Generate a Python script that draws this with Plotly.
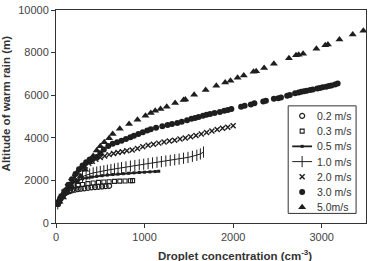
import plotly.graph_objects as go

# ---------------- data ----------------
labels = ["0.2 m/s", "0.3 m/s", "0.5 m/s", "1.0 m/s", "2.0 m/s", "3.0 m/s", "5.0m/s"]

x02 = [20, 30, 45, 60, 80, 100, 125, 150, 180, 210, 245, 280, 320, 360, 400, 440, 480, 520, 560, 600]
y02 = [900, 1000, 1120, 1220, 1320, 1390, 1450, 1490, 1530, 1560, 1590, 1610, 1630, 1650, 1670, 1685, 1700, 1715, 1730, 1745]

x03 = [20, 40, 60, 90, 120, 160, 200, 250, 300, 360, 420, 480, 540, 600, 660, 720, 780, 840, 865]
y03 = [900, 1080, 1250, 1420, 1530, 1620, 1690, 1760, 1810, 1850, 1880, 1905, 1925, 1940, 1955, 1965, 1975, 1985, 1990]

x05 = [20, 50, 80, 120, 160, 200, 250, 300, 350, 400, 460, 520, 580, 640, 700, 760, 820, 880, 940, 1000, 1060, 1120, 1160]
y05 = [900, 1150, 1400, 1650, 1820, 1930, 2020, 2080, 2120, 2160, 2190, 2220, 2250, 2275, 2295, 2315, 2335, 2355, 2370, 2385, 2400, 2415, 2430]

x10 = [20, 60, 100, 140, 180, 220, 260, 300, 340, 380, 420, 460, 500, 540, 580, 620, 660, 700, 740, 790, 840, 890,
       940, 990, 1040, 1090, 1140, 1190, 1240, 1290, 1340, 1390, 1440, 1490, 1540, 1590, 1630, 1665]
y10 = [900, 1150, 1400, 1620, 1820, 1980, 2100, 2180, 2250, 2300, 2350, 2390, 2420, 2450, 2480, 2510, 2540, 2570,
       2600, 2630, 2670, 2700, 2730, 2760, 2790, 2820, 2850, 2880, 2910, 2940, 2970, 3000, 3040, 3080, 3130, 3180, 3240, 3330]

x20 = [20, 50, 90, 130, 170, 210, 250, 290, 330, 370, 410, 450, 500, 550, 600, 650, 700, 750, 800, 860, 920, 980,
       1040, 1100, 1160, 1220, 1280, 1340, 1400, 1460, 1520, 1580, 1640, 1700, 1760, 1820, 1880, 1940, 2000]
y20 = [900, 1150, 1450, 1700, 1950, 2150, 2350, 2530, 2680, 2800, 2900, 2990, 3080, 3150, 3210, 3260, 3310, 3350,
       3390, 3430, 3500, 3580, 3650, 3700, 3750, 3800, 3850, 3890, 3940, 3990, 4050, 4110, 4180, 4250, 4320, 4390,
       4450, 4500, 4570]

x30 = [20, 60, 100, 140, 180, 220, 260, 300, 340, 380, 420, 460, 500, 540, 590, 640, 690, 740, 790, 840, 880, 930,
       980, 1030, 1070, 1130, 1200, 1260, 1310, 1370, 1420, 1480, 1530, 1570, 1610, 1660, 1700, 1740, 1790, 1850,
       1900, 1940, 1980, 2090, 2130, 2200, 2240, 2340, 2370, 2460, 2510, 2540, 2610, 2640, 2700, 2740, 2770, 2800,
       2830, 2870, 2900, 2950, 2980, 3010, 3050, 3080, 3110, 3150, 3180]
y30 = [900, 1200, 1500, 1800, 2050, 2300, 2520, 2700, 2850, 2980, 3050, 3100, 3280, 3450, 3620, 3720, 3790, 3860,
       3940, 4030, 4100, 4180, 4260, 4340, 4400, 4470, 4540, 4600, 4650, 4700, 4750, 4820, 4890, 4930, 4980, 5030,
       5080, 5120, 5170, 5210, 5270, 5310, 5350, 5460, 5500, 5560, 5620, 5700, 5740, 5830, 5860, 5890, 5970, 6010,
       6090, 6130, 6160, 6190, 6210, 6240, 6270, 6310, 6340, 6370, 6400, 6430, 6460, 6500, 6550]

x50 = [40, 80, 130, 180, 230, 280, 330, 380, 420, 460, 500, 545, 600, 640, 720, 825, 920, 1010, 1070, 1120, 1180,
       1250, 1345, 1440, 1460, 1560, 1690, 1810, 1910, 1970, 2050, 2120, 2230, 2260, 2350, 2460, 2630, 2710, 2740,
       2790, 2940, 3040, 3070, 3200, 3350, 3470]
y50 = [1000, 1200, 1450, 1700, 1950, 2200, 2500, 2850, 3150, 3400, 3600, 3790, 3980, 4180, 4420, 4650, 4850, 5040,
       5160, 5270, 5350, 5460, 5630, 5780, 5800, 6020, 6240, 6440, 6600, 6680, 6820, 6920, 7100, 7130, 7280, 7480,
       7730, 7870, 7900, 7950, 8180, 8340, 8380, 8620, 8850, 9030]

x_ticks = [0, 1000, 2000, 3000]
y_ticks = [0, 2000, 4000, 6000, 8000, 10000]
x_tick_text = ["0", "1000", "2000", "3000"]
y_tick_text = ["0", "2000", "4000", "6000", "8000", "10000"]

# ---------------- styling ----------------
INK = "#1e1e1e"
FONT = "Arial, Liberation Sans, sans-serif"

styles = [
    dict(mode="markers", marker=dict(symbol="circle-open", size=5, color=INK, line=dict(width=1.2, color=INK))),
    dict(mode="markers", marker=dict(symbol="square-open", size=4, color=INK, line=dict(width=1.1, color=INK))),
    dict(mode="lines+markers", line=dict(width=1.8, color=INK),
         marker=dict(symbol="square", size=3, color=INK)),
    dict(mode="lines+markers", line=dict(width=1, color=INK),
         marker=dict(symbol="line-ns", size=8, color=INK, line=dict(width=1, color=INK))),
    dict(mode="markers", marker=dict(symbol="x-thin", size=5, color=INK, line=dict(width=1.4, color=INK))),
    dict(mode="markers", marker=dict(symbol="circle", size=6, color=INK)),
    dict(mode="markers", marker=dict(symbol="triangle-up", size=7, color=INK)),
]

series = [(x02, y02), (x03, y03), (x05, y05), (x10, y10), (x20, y20), (x30, y30), (x50, y50)]

fig = go.Figure()
for (xs, ys), lab, st in zip(series, labels, styles):
    fig.add_trace(go.Scatter(x=xs, y=ys, name=lab, showlegend=False, hoverinfo="skip", **st))

# ---------------- custom legend (on a hidden overlay axis 0..1) ----------------
box_x0, box_x1, box_y0, box_y1 = 0.749, 0.968, 0.045, 0.55
row_top, row_step = 0.503, 0.0716
glyph_x, line_x0, line_x1, text_x = 0.794, 0.762, 0.826, 0.836

fig.add_trace(go.Scatter(
    x=[box_x0, box_x1, box_x1, box_x0, box_x0], y=[box_y0, box_y0, box_y1, box_y1, box_y0],
    xaxis="x2", yaxis="y2", mode="lines", fill="toself", fillcolor="white",
    line=dict(color="#333", width=1), showlegend=False, hoverinfo="skip"))

for i, (lab, st) in enumerate(zip(labels, styles)):
    ry = row_top - i * row_step
    if "lines" in st["mode"]:
        fig.add_trace(go.Scatter(x=[line_x0, line_x1], y=[ry, ry], xaxis="x2", yaxis="y2", mode="lines",
                                 line=st["line"], showlegend=False, hoverinfo="skip"))
    fig.add_trace(go.Scatter(x=[glyph_x], y=[ry], xaxis="x2", yaxis="y2", mode="markers",
                             marker=st["marker"], showlegend=False, hoverinfo="skip"))
    fig.add_annotation(x=text_x, y=ry, xref="paper", yref="paper", text=lab, showarrow=False,
                       xanchor="left", yanchor="middle", font=dict(family=FONT, size=10.5, color="#333"))

axis_common = dict(showline=True, linecolor="#333", linewidth=1, mirror=True, ticks="outside", ticklen=4,
                   tickcolor="#333", showgrid=False, zeroline=False,
                   tickfont=dict(family=FONT, size=11, color="#444"))

fig.update_layout(
    width=371, height=261,
    margin=dict(l=56, r=4, t=8, b=38),
    paper_bgcolor="white", plot_bgcolor="white",
    showlegend=False,
    xaxis=dict(range=[0, 3500], tickvals=x_ticks, ticktext=x_tick_text, **axis_common),
    yaxis=dict(range=[0, 10000], tickvals=y_ticks, ticktext=y_tick_text, **axis_common),
    xaxis2=dict(range=[0, 1], overlaying="x", visible=False, fixedrange=True),
    yaxis2=dict(range=[0, 1], overlaying="y", visible=False, fixedrange=True),
)

fig.add_annotation(x=0.578, y=-0.152, xref="paper", yref="paper", showarrow=False,
                   text="<b>Droplet concentration (cm<sup>-3</sup>)</b>",
                   xanchor="center", yanchor="middle", font=dict(family=FONT, size=11.5, color="#333"))
fig.add_annotation(x=-0.161, y=0.562, xref="paper", yref="paper", showarrow=False, textangle=-90,
                   text="<b>Altitude of warm rain (m)</b>",
                   xanchor="center", yanchor="middle", font=dict(family=FONT, size=11.5, color="#333"))

fig.write_html("out.html")
